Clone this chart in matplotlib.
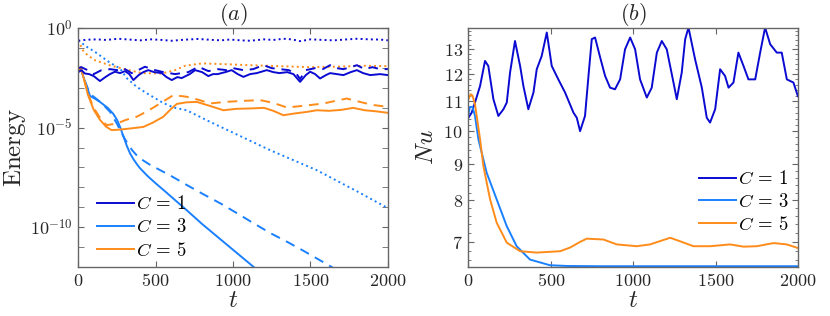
import numpy as np
import matplotlib
matplotlib.use("Agg")
import matplotlib.pyplot as plt
from matplotlib.ticker import FixedLocator, FuncFormatter, MultipleLocator, NullFormatter

plt.rcParams['mathtext.fontset'] = 'cm'
plt.rcParams['font.family'] = 'serif'
plt.rcParams['font.serif'] = ['DejaVu Serif']

DARK_BLUE = '#0a0ad2'
LIGHT_BLUE = '#1a80ff'
ORANGE = '#ff8c1a'
FRAME = '#666666'
TEXT = '#262626'

# ---- panel (a): energy, values are log10(E) ----
c1_solid_t = [0, 20, 43, 70, 100, 140, 175, 205, 237, 270, 302, 330, 356, 390, 420, 452, 490, 539,
              570, 604, 640, 668, 720, 755, 800, 840, 870, 900, 950, 991, 1030, 1067, 1110, 1153,
              1218, 1260, 1300, 1350, 1390, 1433, 1470, 1498, 1530, 1562, 1600, 1627, 1670, 1713,
              1760, 1800, 1840, 1886, 1950, 2000]
c1_solid = [-2.2, -2.1, -2.27, -2.3, -2.4, -2.65, -2.45, -2.3, -2.18, -2.25, -2.15, -2.3, -2.6, -2.35,
            -2.2, -2.1, -2.2, -2.25, -2.45, -2.6, -2.45, -2.5, -2.3, -2.1, -2.2, -2.4, -2.3, -2.3,
            -2.2, -2.1, -2.3, -2.44, -2.3, -2.25, -2.1, -2.2, -2.25, -2.2, -2.3, -2.69, -2.35,
            -2.18, -2.3, -2.52, -2.35, -2.25, -2.3, -2.35, -2.2, -2.1, -2.25, -2.35, -2.3, -2.35]

c1_dash_t = [0, 20, 60, 100, 150, 205, 250, 291, 345, 400, 431, 496, 550, 625, 670, 711, 776, 841,
             900, 960, 1000, 1067, 1130, 1196, 1250, 1304, 1360, 1411, 1433, 1470, 1530, 1580,
             1627, 1670, 1713, 1760, 1800, 1850, 1900, 1950, 2000]
c1_dash = [-2.0, -1.95, -2.1, -2.3, -2.1, -2.05, -2.1, -2.0, -2.25, -2.05, -1.93, -2.1, -2.2, -2.3,
           -2.25, -2.2, -1.93, -2.15, -2.05, -2.1, -2.0, -2.1, -2.05, -1.85, -2.0, -2.05, -2.1,
           -2.3, -2.55, -2.1, -2.0, -2.05, -1.85, -2.0, -2.05, -1.95, -1.85, -2.05, -1.95, -2.05, -2.05]

c1_dot_t = [0, 50, 120, 180, 259, 330, 400, 470, 540, 604, 680, 774, 850, 920, 981, 1050, 1110,
            1200, 1260, 1325, 1380, 1433, 1500, 1583, 1650, 1720, 1800, 1880, 1950, 2000]
c1_dot = [-0.62, -0.57, -0.55, -0.58, -0.52, -0.56, -0.6, -0.55, -0.58, -0.62, -0.57, -0.53, -0.57,
          -0.6, -0.56, -0.6, -0.62, -0.55, -0.58, -0.52, -0.55, -0.64, -0.55, -0.58, -0.6, -0.56,
          -0.52, -0.55, -0.56, -0.6]

c3_solid_t = [0, 15, 40, 76, 110, 140, 190, 226, 250, 270, 290, 313, 335, 356, 380, 400, 450, 500,
              560, 626, 700, 800, 900, 1000, 1131, 1250]
c3_solid = [-2.1, -2.0, -2.6, -3.4, -3.55, -3.7, -4.0, -4.3, -4.6, -4.96, -5.4, -5.9, -6.3, -6.58,
            -6.85, -7.05, -7.45, -7.8, -8.2, -8.65, -9.15, -9.85, -10.5, -11.15, -12.0, -12.8]

c3_dash_t = [0, 15, 40, 76, 110, 150, 205, 250, 275, 300, 325, 350, 375, 400, 460, 520, 593, 700,
             808, 920, 1024, 1130, 1239, 1350, 1455, 1616, 1700]
c3_dash = [-2.1, -2.0, -2.6, -3.3, -3.5, -3.75, -4.2, -4.8, -5.2, -5.55, -5.88, -6.15, -6.37, -6.55,
           -6.85, -7.1, -7.4, -7.88, -8.35, -8.82, -9.3, -9.8, -10.3, -10.75, -11.2, -11.92, -12.3]

c3_dot_t = [0, 50, 108, 200, 270, 313, 377, 450, 548, 614, 700, 850, 1000, 1239, 1541, 1800, 2000]
c3_dot = [-0.6, -0.9, -1.18, -1.7, -2.02, -2.5, -2.94, -3.3, -3.75, -3.98, -4.12, -4.7, -5.25,
          -6.13, -7.14, -8.2, -9.05]

c5_solid_t = [0, 15, 35, 63, 100, 140, 180, 215, 260, 334, 420, 480, 549, 600, 637, 700, 765, 850,
              937, 1020, 1110, 1200, 1260, 1325, 1400, 1480, 1540, 1620, 1700, 1776, 1850, 1930, 2000]
c5_solid = [-2.15, -1.95, -2.5, -3.36, -4.1, -4.6, -4.95, -5.12, -5.1, -5.04, -4.96, -4.75, -4.45,
            -4.05, -3.8, -3.72, -3.7, -3.9, -4.12, -4.05, -4.03, -4.0, -4.15, -4.37, -4.28, -4.2,
            -4.12, -4.15, -4.1, -4.0, -4.12, -4.18, -4.25]

c5_dash_t = [0, 15, 35, 63, 100, 140, 183, 248, 310, 377, 450, 528, 614, 700, 780, 851, 950, 1060,
             1175, 1260, 1347, 1450, 1584, 1660, 1735, 1820, 1900, 2000]
c5_dash = [-2.15, -1.95, -2.5, -3.3, -4.0, -4.5, -4.87, -4.79, -4.6, -4.45, -4.15, -3.78, -3.36,
           -3.44, -3.6, -3.78, -3.7, -3.65, -3.61, -3.75, -3.98, -3.9, -3.78, -3.65, -3.53, -3.7,
           -3.85, -3.95]

c5_dot_t = [0, 30, 60, 108, 200, 300, 410, 540, 625, 690, 800, 950, 1100, 1300, 1500, 1700, 1850, 2000]
c5_dot = [-0.6, -1.1, -1.35, -1.6, -1.85, -2.05, -2.25, -2.27, -2.1, -1.88, -1.76, -1.8, -1.85,
          -1.9, -1.95, -1.92, -1.88, -1.9]

# ---- panel (b): Nusselt number ----
nu1_t = [0, 20, 40, 71, 101, 121, 152, 182, 213, 233, 253, 283, 314, 334, 364, 395, 415, 445, 476,
         506, 546, 587, 638, 658, 678, 708, 729, 749, 769, 800, 830, 860, 890, 921, 951, 982, 1012,
         1042, 1083, 1113, 1144, 1174, 1204, 1245, 1265, 1295, 1316, 1336, 1376, 1417, 1447, 1467,
         1498, 1528, 1558, 1579, 1609, 1639, 1670, 1700, 1741, 1771, 1801, 1832, 1872, 1902, 1933,
         1973, 2000]
nu1 = [10.43, 10.6, 10.95, 11.55, 12.52, 12.32, 11.07, 10.49, 10.72, 10.95, 12.06, 13.35, 12.32,
       11.55, 10.72, 11.31, 12.19, 12.72, 13.72, 12.32, 11.8, 11.31, 10.6, 10.43, 9.99, 10.49, 11.93,
       13.43, 13.5, 12.66, 11.93, 11.49, 11.43, 11.8, 13.0, 13.5, 13.0, 11.8, 11.13, 11.49, 12.86,
       13.35, 13.0, 11.68, 11.07, 12.06, 13.43, 13.94, 12.59, 11.49, 10.43, 10.27, 10.72, 12.19,
       11.93, 11.49, 11.68, 12.86, 12.32, 11.8, 11.8, 12.86, 13.94, 13.21, 12.86, 12.86, 11.8,
       11.68, 11.18]

nu3_t = [0, 10, 25, 40, 61, 111, 172, 233, 293, 374, 496, 600, 800, 1200, 1600, 2000]
nu3 = [10.55, 10.8, 10.8, 10.5, 9.73, 8.74, 8.02, 7.36, 6.9, 6.61, 6.49, 6.475, 6.47, 6.47, 6.47, 6.47]

nu5_t = [0, 14, 25, 40, 71, 91, 132, 172, 233, 314, 415, 557, 617, 680, 719, 820, 901, 1022, 1103,
         1225, 1285, 1366, 1467, 1589, 1670, 1751, 1852, 1933, 2000]
nu5 = [11.07, 11.25, 11.2, 10.9, 9.73, 8.93, 8.02, 7.44, 6.98, 6.79, 6.76, 6.79, 6.87, 7.0, 7.07,
       7.05, 6.94, 6.9, 6.94, 7.09, 7.01, 6.9, 6.9, 6.94, 6.89, 6.9, 6.97, 6.94, 6.86]

LW = 1.4
DASH = (0, (5, 3.5))

fig = plt.figure(figsize=(8.3, 3.16), dpi=100)
ax1 = fig.add_axes([0.0943, 0.156, 0.373, 0.754])
ax2 = fig.add_axes([0.5643, 0.156, 0.397, 0.754])

# panel (a)
for t, v, ls in [(c3_solid_t, c3_solid, '-'), (c3_dash_t, c3_dash, DASH), (c3_dot_t, c3_dot, ':')]:
    ax1.plot(t, 10.0 ** np.array(v), color=LIGHT_BLUE, ls=ls, lw=LW)
for t, v, ls in [(c5_solid_t, c5_solid, '-'), (c5_dash_t, c5_dash, DASH), (c5_dot_t, c5_dot, ':')]:
    ax1.plot(t, 10.0 ** np.array(v), color=ORANGE, ls=ls, lw=LW)
for t, v, ls in [(c1_solid_t, c1_solid, '-'), (c1_dash_t, c1_dash, DASH), (c1_dot_t, c1_dot, ':')]:
    ax1.plot(t, 10.0 ** np.array(v), color=DARK_BLUE, ls=ls, lw=LW)

ax1.set_yscale('log')
ax1.set_xlim(0, 2000)
ax1.set_ylim(1e-12, 1)
ax1.yaxis.set_major_locator(FixedLocator([1e-10, 1e-5, 1e0]))
ax1.yaxis.set_minor_locator(FixedLocator([10.0 ** k for k in range(-12, 1)]))
ax1.yaxis.set_minor_formatter(NullFormatter())
ax1.yaxis.set_major_formatter(FuncFormatter(lambda v, p: r'$10^{%d}$' % round(np.log10(v))))
ax1.set_ylabel(r'$\mathrm{Energy}$', fontsize=18, color=TEXT, labelpad=1)
ax1.set_title(r'$(a)$', fontsize=16, color=TEXT, pad=3)

h1, = ax1.plot([], [], color=DARK_BLUE, lw=LW)
h3, = ax1.plot([], [], color=LIGHT_BLUE, lw=LW)
h5, = ax1.plot([], [], color=ORANGE, lw=LW)
ax1.legend([h1, h3, h5], [r'$C\,=\,1$', r'$C\,=\,3$', r'$C\,=\,5$'], loc='lower left', frameon=False,
           fontsize=13.5, handlelength=2.0, handletextpad=0.1, labelspacing=0.28,
           borderaxespad=0.1, bbox_to_anchor=(0.03, -0.01))

# panel (b)
ax2.plot(nu1_t, nu1, color=DARK_BLUE, lw=LW, label=r'$C\,=\,1$')
ax2.plot(nu3_t, nu3, color=LIGHT_BLUE, lw=LW, label=r'$C\,=\,3$')
ax2.plot(nu5_t, nu5, color=ORANGE, lw=LW, label=r'$C\,=\,5$')
ax2.set_yscale('log')
ax2.set_xlim(0, 2000)
ax2.set_ylim(6.46, 13.9)
ax2.yaxis.set_major_locator(FixedLocator([7, 8, 9, 10, 11, 12, 13]))
ax2.yaxis.set_minor_locator(MultipleLocator(0.2))
ax2.yaxis.set_minor_formatter(NullFormatter())
ax2.yaxis.set_major_formatter(FuncFormatter(lambda v, p: r'$%d$' % round(v)))
ax2.set_ylabel(r'$Nu$', fontsize=18, color=TEXT, labelpad=4)
ax2.set_title(r'$(b)$', fontsize=16, color=TEXT, pad=3)
ax2.legend(loc='lower right', frameon=False, fontsize=13.5, handlelength=2.0, handletextpad=0.1,
           labelspacing=0.25, borderaxespad=0.1, bbox_to_anchor=(1.0, 0.1))

for ax in (ax1, ax2):
    ax.xaxis.set_major_locator(FixedLocator([0, 500, 1000, 1500, 2000]))
    ax.xaxis.set_major_formatter(FuncFormatter(lambda v, p: r'$%d$' % round(v)))
    ax.set_xlabel(r'$t$', fontsize=18, color=TEXT, labelpad=-1)
    ax.tick_params(which='both', direction='in', top=True, right=True, colors=FRAME,
                   labelcolor=TEXT, labelsize=13)
    ax.tick_params(which='major', length=4, width=0.8, pad=4)
    ax.tick_params(which='minor', length=2.5, width=0.6)
    for s in ax.spines.values():
        s.set_color(FRAME)
        s.set_linewidth(1.0)
ax1.tick_params(which='minor', length=4)

fig.savefig('out.png', dpi=100)
